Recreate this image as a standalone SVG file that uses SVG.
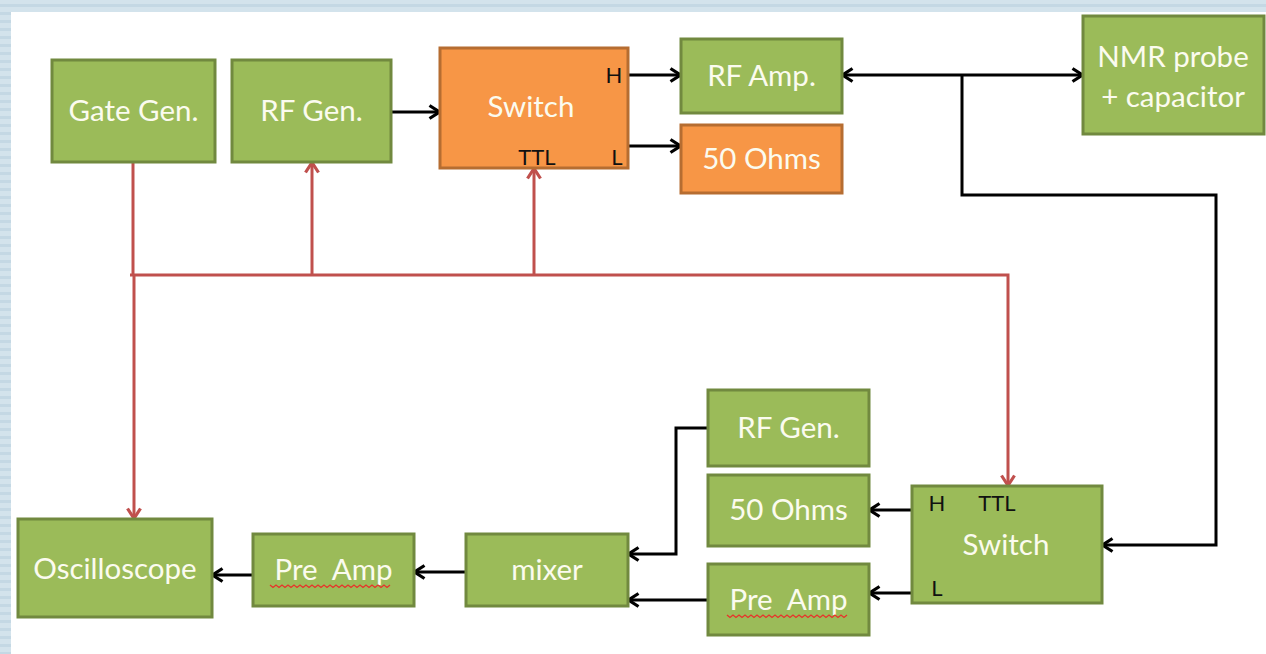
<svg xmlns="http://www.w3.org/2000/svg" width="1266" height="654" viewBox="0 0 1266 654">
  <style>
    .g { fill: #9bbb59; stroke: #71893f; stroke-width: 3; }
    .o { fill: #f79646; stroke: #b66d31; stroke-width: 3; }
    .t { font-family: Lato, "Open Sans", sans-serif; font-size: 29.5px; fill: #fbfbef; text-anchor: middle; }
    .p { font-family: Lato, "Open Sans", sans-serif; font-size: 22px; fill: #111; text-anchor: middle; }
    .k { fill: none; stroke: #000; stroke-width: 3; }
    .r { fill: none; stroke: #c0504d; stroke-width: 3; }
    .spell { fill: none; stroke: #e8322a; stroke-width: 1.3; }
  </style>
  <defs>
    <pattern id="stripes" width="20" height="8" patternUnits="userSpaceOnUse">
      <rect width="20" height="8" fill="#d3e3ec"/>
      <rect y="4" width="20" height="3" fill="#c4d8e4"/>
    </pattern>
    <marker id="ak" viewBox="0 0 13 16" refX="12" refY="8" markerWidth="13" markerHeight="16" markerUnits="userSpaceOnUse" orient="auto-start-reverse">
      <path d="M1.5,1.5 L11.5,8 L1.5,14.5" fill="none" stroke="#000" stroke-width="3.2"/>
    </marker>
    <marker id="ar" viewBox="0 0 13 16" refX="12" refY="8" markerWidth="13" markerHeight="16" markerUnits="userSpaceOnUse" orient="auto-start-reverse">
      <path d="M1.5,1.5 L11.5,8 L1.5,14.5" fill="none" stroke="#c0504d" stroke-width="3.2"/>
    </marker>
  </defs>

  <rect x="0" y="0" width="1266" height="654" fill="url(#stripes)"/>
  <rect x="11" y="12" width="1255" height="642" fill="#ffffff"/>

  <g id="connectors">
    <path class="r" d="M133,162 V275"/>
    <path class="r" d="M134,275 V519" marker-end="url(#ar)"/>
    <path class="r" d="M130,275 H1008 V486" marker-end="url(#ar)"/>
    <path class="r" d="M312,275 V162" marker-end="url(#ar)"/>
    <path class="r" d="M534,275 V168" marker-end="url(#ar)"/>

    <path class="k" d="M391,112 H440" marker-end="url(#ak)"/>
    <path class="k" d="M628,75 H681" marker-end="url(#ak)"/>
    <path class="k" d="M628,146 H681" marker-end="url(#ak)"/>
    <path class="k" d="M842,75 H1083" marker-start="url(#ak)" marker-end="url(#ak)"/>
    <path class="k" d="M962,75 V195 H1216 V545 H1102" marker-end="url(#ak)"/>
    <path class="k" d="M912,510 H869" marker-end="url(#ak)"/>
    <path class="k" d="M912,593 H869" marker-end="url(#ak)"/>
    <path class="k" d="M708,600 H628" marker-end="url(#ak)"/>
    <path class="k" d="M708,428 H676 V554 H628" marker-end="url(#ak)"/>
    <path class="k" d="M466,572 H414" marker-end="url(#ak)"/>
    <path class="k" d="M253,575 H212" marker-end="url(#ak)"/>
  </g>

  <g id="gate-gen">
    <rect class="g" x="52" y="60" width="163" height="102"/>
    <text class="t" x="133.5" y="121">Gate Gen.</text>
  </g>
  <g id="rf-gen-top">
    <rect class="g" x="232" y="60" width="159" height="102"/>
    <text class="t" x="311.5" y="121">RF Gen.</text>
  </g>
  <g id="switch-top">
    <rect class="o" x="440" y="48" width="188" height="120"/>
    <text class="t" x="531" y="117">Switch</text>
    <text class="p" x="614" y="83">H</text>
    <text class="p" x="537" y="165">TTL</text>
    <text class="p" x="617" y="165">L</text>
  </g>
  <g id="rf-amp">
    <rect class="g" x="681" y="39" width="161" height="74"/>
    <text class="t" x="761.5" y="86">RF Amp.</text>
  </g>
  <g id="ohms-top">
    <rect class="o" x="681" y="125" width="161" height="68"/>
    <text class="t" x="761.5" y="169">50 Ohms</text>
  </g>
  <g id="nmr-probe">
    <rect class="g" x="1083" y="16" width="181" height="118"/>
    <text class="t" x="1173" y="67">NMR probe</text>
    <text class="t" x="1173" y="107">+ capacitor</text>
  </g>
  <g id="oscilloscope">
    <rect class="g" x="18" y="519" width="194" height="98"/>
    <text class="t" x="115" y="579">Oscilloscope</text>
  </g>
  <g id="pre-amp-left">
    <rect class="g" x="253" y="534" width="161" height="72"/>
    <text class="t" x="333.5" y="580" xml:space="preserve">Pre  Amp</text>
    <path class="spell" d="M270,585 l3,2.5 l3,-2.5 l3,2.5 l3,-2.5 l3,2.5 l3,-2.5 l3,2.5 l3,-2.5 l3,2.5 l3,-2.5 l3,2.5 l3,-2.5 l3,2.5 l3,-2.5 l3,2.5 l3,-2.5 l3,2.5 l3,-2.5 l3,2.5 l3,-2.5 l3,2.5 l3,-2.5 l3,2.5 l3,-2.5 l3,2.5 l3,-2.5 l3,2.5 l3,-2.5 l3,2.5 l3,-2.5 l3,2.5 l3,-2.5 l3,2.5 l3,-2.5 l3,2.5 l3,-2.5 l3,2.5 l3,-2.5 l3,2.5 l3,-2.5"/>
  </g>
  <g id="mixer">
    <rect class="g" x="466" y="534" width="162" height="72"/>
    <text class="t" x="547" y="580">mixer</text>
  </g>
  <g id="rf-gen-bottom">
    <rect class="g" x="708" y="390" width="161" height="76"/>
    <text class="t" x="788.5" y="438">RF Gen.</text>
  </g>
  <g id="ohms-bottom">
    <rect class="g" x="708" y="475" width="161" height="71"/>
    <text class="t" x="788.5" y="520">50 Ohms</text>
  </g>
  <g id="pre-amp-right">
    <rect class="g" x="708" y="564" width="161" height="71"/>
    <text class="t" x="788.5" y="610" xml:space="preserve">Pre  Amp</text>
    <path class="spell" d="M727,615 l3,2.5 l3,-2.5 l3,2.5 l3,-2.5 l3,2.5 l3,-2.5 l3,2.5 l3,-2.5 l3,2.5 l3,-2.5 l3,2.5 l3,-2.5 l3,2.5 l3,-2.5 l3,2.5 l3,-2.5 l3,2.5 l3,-2.5 l3,2.5 l3,-2.5 l3,2.5 l3,-2.5 l3,2.5 l3,-2.5 l3,2.5 l3,-2.5 l3,2.5 l3,-2.5 l3,2.5 l3,-2.5 l3,2.5 l3,-2.5 l3,2.5 l3,-2.5 l3,2.5 l3,-2.5 l3,2.5 l3,-2.5 l3,2.5 l3,-2.5"/>
  </g>
  <g id="switch-bottom">
    <rect class="g" x="912" y="486" width="190" height="117"/>
    <text class="t" x="1006" y="555">Switch</text>
    <text class="p" x="937" y="511">H</text>
    <text class="p" x="997" y="511">TTL</text>
    <text class="p" x="937" y="596">L</text>
  </g>
</svg>
